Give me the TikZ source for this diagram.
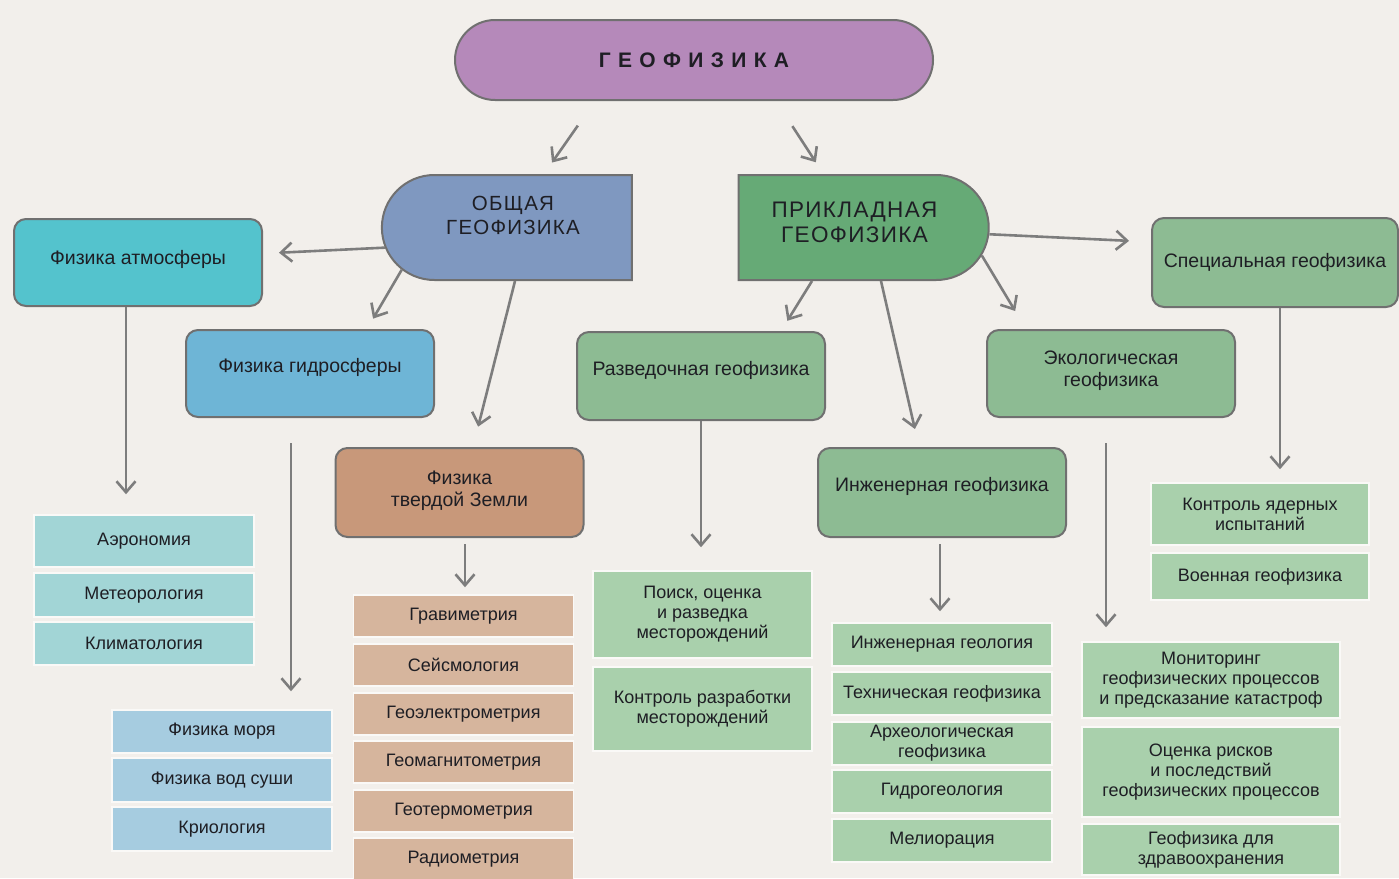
\documentclass[tikz,border=0pt]{standalone}
\usepackage{fontspec}
\setmainfont{Liberation Sans}
\newfontfamily\capsfont[LetterSpace=6]{Liberation Sans}
\newfontfamily\titlefont[LetterSpace=35]{Liberation Sans}
\usetikzlibrary{arrows.meta, positioning, shapes.misc}

\definecolor{bg}{RGB}{242,239,235}
\definecolor{edge}{RGB}{112,112,112}
\definecolor{arrowgray}{RGB}{125,125,125}
\definecolor{txt}{RGB}{30,30,36}
\definecolor{geocol}{RGB}{181,137,186}
\definecolor{obshcol}{RGB}{127,152,192}
\definecolor{priklcol}{RGB}{102,170,118}
\definecolor{atmcol}{RGB}{84,195,205}
\definecolor{gidrocol}{RGB}{110,181,214}
\definecolor{tverdcol}{RGB}{200,152,122}
\definecolor{appcol}{RGB}{141,187,147}
\definecolor{atmlight}{RGB}{162,213,214}
\definecolor{gidrolight}{RGB}{166,204,224}
\definecolor{tverdlight}{RGB}{214,181,157}
\definecolor{applight}{RGB}{169,208,172}

\tikzset{
  headbox/.style={rounded rectangle, draw=edge, line width=2pt, minimum width=254pt,
    minimum height=105pt, align=center, text=txt, inner sep=2pt,
    font=\capsfont\fontsize{20.5}{24}\selectfont},
  fieldbox/.style={draw=edge, line width=2pt, rounded corners=12pt, minimum width=248pt,
    minimum height=87pt, align=center, text=txt, font=\fontsize{19.5}{22.5}\selectfont},
  subitem/.style={draw=white!60!bg, line width=1.5pt, minimum width=220pt, minimum height=43pt,
    align=center, text=txt, inner sep=2pt, font=\fontsize{18}{20}\selectfont},
  arr/.style={draw=arrowgray, line width=2.6pt, -{Straight Barb[length=11pt, width=19pt]}},
}

\begin{document}
\begin{tikzpicture}[x=1pt, y=-1pt]
  % Background and page size
  \fill[bg] (0,0) rectangle (1399,878);
  \useasboundingbox (0,0) rectangle (1399,878);

  % Top level
  \node[headbox, fill=geocol, minimum width=482pt, minimum height=80pt,
    font=\titlefont\bfseries\fontsize{21}{24}\selectfont] (geo) at (694,60) {ГЕОФИЗИКА};

  % Two branches
  \node[headbox, rounded rectangle right arc=none, fill=obshcol, text depth=24pt] (obsh) at (512,227.5) {\hspace*{2pt}ОБЩАЯ\\\hspace*{2pt}ГЕОФИЗИКА};
  \node[headbox, rounded rectangle left arc=none, fill=priklcol, text depth=10pt,
    font=\capsfont\fontsize{22.5}{25}\selectfont] (prikl) at (860.5,227.5) {ПРИКЛАДНАЯ\hspace*{12pt}\\ГЕОФИЗИКА\hspace*{12pt}};

  % Fields of general geophysics
  \node[fieldbox, fill=atmcol, text depth=10pt] (atm) at (138,262.5) {Физика атмосферы};
  \node[fieldbox, fill=gidrocol, text depth=16pt] (gidro) at (310,373.5) {Физика гидросферы};
  \node[fieldbox, fill=tverdcol, minimum height=89pt, text depth=8pt] (tverd) at (459.5,492.5) {Физика\\твердой Земли};

  % Fields of applied geophysics
  \node[fieldbox, fill=appcol, minimum height=88pt, text depth=16pt] (razv) at (701,376) {Разведочная геофизика};
  \node[fieldbox, fill=appcol, minimum height=89pt, text depth=16pt] (inzh) at (942,492.5) {Инженерная геофизика};
  \node[fieldbox, fill=appcol, text depth=10pt] (ekol) at (1111,373.5) {Экологическая\\геофизика};
  \node[fieldbox, fill=appcol, minimum width=246pt, minimum height=89pt] (spec) at (1275,262.5) {Специальная геофизика};

  % Atmosphere list
  \node[subitem, fill=atmlight, minimum height=52pt] (aeron) at (144,541) {Аэрономия};
  \node[subitem, fill=atmlight, minimum height=44pt] (meteo) at (144,595) {Метеорология};
  \node[subitem, fill=atmlight] (klimat) at (144,643.5) {Климатология};

  % Hydrosphere list
  \node[subitem, fill=gidrolight] (fizmorya) at (222,731.5) {Физика моря};
  \node[subitem, fill=gidrolight, minimum height=44pt] (vodsushi) at (222,780) {Физика вод суши};
  \node[subitem, fill=gidrolight, minimum height=44pt] (krio) at (222,829) {Криология};

  % Solid Earth list
  \node[subitem, fill=tverdlight, minimum height=42pt] (grav) at (463.5,616) {Гравиметрия};
  \node[subitem, fill=tverdlight, minimum height=42pt] (seism) at (463.5,665) {Сейсмология};
  \node[subitem, fill=tverdlight, minimum height=42pt] (geoel) at (463.5,714) {Геоэлектрометрия};
  \node[subitem, fill=tverdlight, minimum height=42pt] (geomag) at (463.5,762) {Геомагнитометрия};
  \node[subitem, fill=tverdlight, minimum height=42pt] (geoterm) at (463.5,811) {Геотермометрия};
  \node[subitem, fill=tverdlight, minimum height=42pt] (radio) at (463.5,859) {Радиометрия};

  % Exploration list
  \node[subitem, fill=applight, minimum width=219pt, minimum height=87pt] (poisk) at (702.5,614.5) {Поиск, оценка\\и разведка\\месторождений};
  \node[subitem, fill=applight, minimum width=219pt, minimum height=84pt] (kontrrazr) at (702.5,709) {Контроль разработки\\месторождений};

  % Engineering list
  \node[subitem, fill=applight] (inzhgeol) at (942,644.5) {Инженерная геология};
  \node[subitem, fill=applight] (tehn) at (942,693.5) {Техническая геофизика};
  \node[subitem, fill=applight] (arheo) at (942,743.5) {Археологическая\\геофизика};
  \node[subitem, fill=applight] (gidrogeol) at (942,791.5) {Гидрогеология};
  \node[subitem, fill=applight] (melior) at (942,840.5) {Мелиорация};

  % Ecological list
  \node[subitem, fill=applight, minimum width=258pt, minimum height=76pt] (monit) at (1211,680) {Мониторинг\\геофизических процессов\\и предсказание катастроф};
  \node[subitem, fill=applight, minimum width=258pt, minimum height=90pt] (ocenka) at (1211,772) {Оценка рисков\\и последствий\\геофизических процессов};
  \node[subitem, fill=applight, minimum width=258pt, minimum height=51pt] (zdrav) at (1211,849.5) {Геофизика для\\здравоохранения};

  % Special list
  \node[subitem, fill=applight, minimum width=218pt, minimum height=62pt] (yadern) at (1260,514) {Контроль ядерных\\испытаний};
  \node[subitem, fill=applight, minimum width=218pt, minimum height=47pt] (voenn) at (1260,576.5) {Военная геофизика};

  % Arrows from the top
  \draw[arr, shorten <=30pt, shorten >=14pt] ([xshift=-99pt]geo.south) -- ([xshift=32pt]obsh.north);
  \draw[arr, shorten <=30pt, shorten >=14pt] ([xshift=82pt]geo.south) -- ([xshift=-37pt]prikl.north);

  % Arrows from the branches
  \draw[arr, shorten >=16pt] (obsh.189.5) -- ([yshift=9pt]atm.east);
  \draw[arr, shorten >=12pt] (obsh.201.5) -- ([xshift=57pt]gidro.north);
  \draw[arr, shorten >=21pt] ([xshift=3pt]obsh.south) -- ([xshift=13.5pt]tverd.north);
  \draw[arr, shorten >=12pt] ([xshift=-48.5pt]prikl.south) -- ([xshift=80pt]razv.north);
  \draw[arr, shorten >=18.5pt] ([xshift=20.5pt]prikl.south) -- ([xshift=-23pt]inzh.north);
  \draw[arr, shorten >=21pt] (prikl.-13) -- ([xshift=-85pt]ekol.north);
  \draw[arr, shorten >=22pt] (prikl.-3.4) -- ([yshift=20.6pt]spec.west);

  % Arrows down to the lists
  \draw[arr, shorten >=20pt] ([xshift=-12pt]atm.south) -- ([xshift=-18pt]aeron.north);
  \draw[arr, shorten <=25pt, shorten >=18pt] ([xshift=-19pt]gidro.south) -- ([xshift=69pt]fizmorya.north);
  \draw[arr, shorten <=6pt, shorten >=7pt] ([xshift=5.5pt]tverd.south) -- ([xshift=1.5pt]grav.north);
  \draw[arr, shorten >=23pt] (razv.south) -- ([xshift=-1.5pt]poisk.north);
  \draw[arr, shorten <=6pt, shorten >=11pt] ([xshift=-2pt]inzh.south) -- ([xshift=-2pt]inzhgeol.north);
  \draw[arr, shorten <=25pt, shorten >=14pt] ([xshift=-5pt]ekol.south) -- ([xshift=-105pt]monit.north);
  \draw[arr, shorten >=13pt] ([xshift=5pt]spec.south) -- ([xshift=20pt]yadern.north);
\end{tikzpicture}
\end{document}
